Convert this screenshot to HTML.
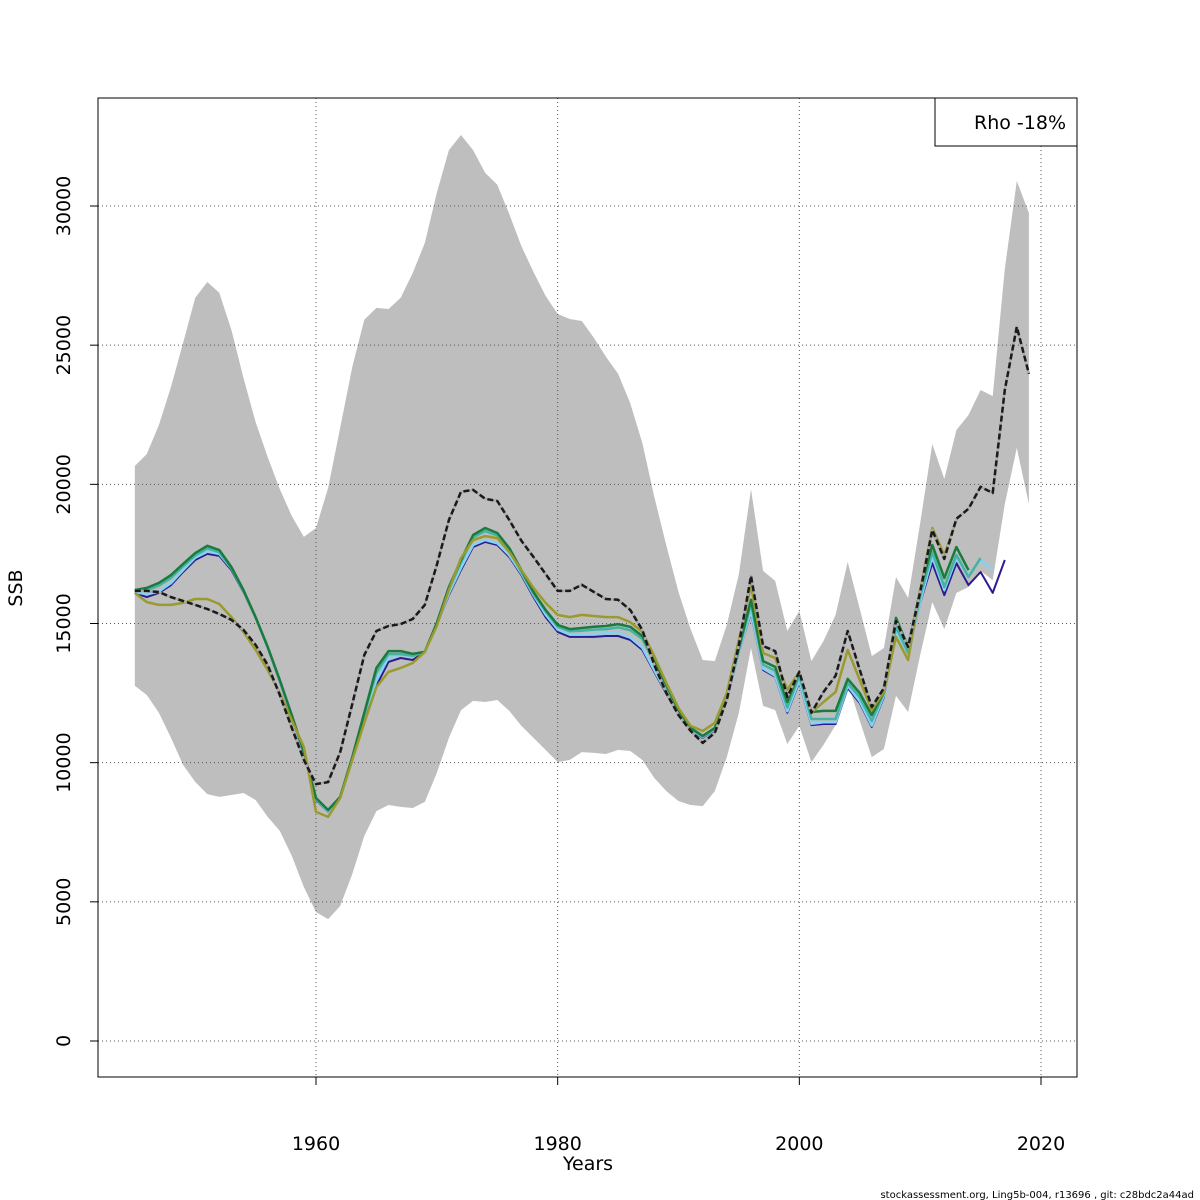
<!DOCTYPE html>
<html><head><meta charset="utf-8"><style>
html,body{margin:0;padding:0;background:#fff;}
svg{display:block;font-family:"DejaVu Sans","Liberation Sans",sans-serif;}
</style></head><body>
<svg id="chart" width="1200" height="1200" viewBox="0 0 1200 1200" xmlns="http://www.w3.org/2000/svg">
<rect width="1200" height="1200" fill="#fff"/>
<g id="band"></g><g id="grid"></g><g id="lines"></g><g id="axes"></g>
</svg>
<script>
const startYear = 1945;
const xTicks = [1960, 1980, 2000, 2020];
const yTicks = [0, 5000, 10000, 15000, 20000, 25000, 30000];
const base = [16170,16170,16130,15950,15810,15670,15520,15340,15130,14770,14230,13510,12430,11250,10100,9230,9300,10380,12110,13870,14730,14910,14980,15160,15670,17100,18720,19730,19800,19480,19400,18720,17970,17390,16780,16170,16170,16390,16130,15880,15850,15490,14770,13510,12500,11710,11140,10710,11070,12250,14230,16710,14190,14010,12360,13260,11790,12540,13120,14730,13330,12000,12680,15090,14160,16130,18360,17320,18760,19120,19910,19690,23390,25660,23970];
const upper = [20660,21090,22130,23500,25080,26700,27270,26880,25550,23820,22240,20980,19830,18860,18110,18430,19870,22030,24220,25910,26340,26300,26700,27590,28670,30470,32010,32550,32010,31190,30760,29710,28560,27630,26770,26120,25940,25870,25260,24580,23970,22920,21490,19550,17790,16130,14800,13690,13650,14950,16780,19830,16890,16530,14730,15450,13650,14370,15310,17210,15520,13830,14120,16670,15920,18610,21450,20190,21950,22490,23390,23170,27740,30900,29750];
const lower = [12760,12430,11790,10890,9920,9310,8870,8770,8840,8910,8660,8050,7550,6650,5530,4630,4380,4850,6000,7370,8260,8480,8410,8370,8590,9630,10890,11890,12220,12180,12250,11860,11320,10890,10460,10020,10100,10380,10350,10310,10460,10420,10100,9450,8980,8620,8480,8440,8980,10200,11790,14120,12040,11890,10670,11320,10020,10640,11350,12900,11500,10200,10490,12400,11820,13870,15770,14800,16100,16310,16890,16560,19290,21310,19290];
const peel1 = [16100,15950,16100,16380,16850,17280,17500,17430,16920,16130,15200,14120,12900,11610,10280,8660,8230,8730,10170,11710,12760,13620,13760,13690,13980,14950,16020,16920,17750,17930,17820,17390,16740,15950,15230,14700,14520,14520,14520,14550,14550,14410,14050,13260,12470,11710,11170,10890,11170,12250,13980,15380,13330,13080,11790,12900,11350,11390,11390,12680,12140,11280,12360,14660,13940,15740,17170,16020,17170,16380,16850,16100,17280];
const peel2 = [16130,16050,16150,16450,16920,17360,17580,17500,16980,16170,15220,14130,12930,11640,10320,8690,8250,8750,10180,11740,12950,13780,13880,13820,14000,14950,16080,17000,17820,18000,17880,17450,16800,16020,15320,14780,14600,14600,14620,14650,14660,14500,14130,13320,12520,11750,11190,10920,11190,12280,14000,15450,13380,13120,11850,12950,11400,11450,11450,12760,12200,11330,12420,14660,13950,15780,17390,16200,17350,16740,17280,16920];
const peel3 = [16170,16200,16360,16640,17050,17440,17700,17560,16990,16180,15220,14150,12950,11690,10360,8710,8280,8760,10190,11760,13230,13900,13900,13840,13980,15000,16220,17200,18100,18320,18160,17620,16850,16070,15440,14880,14720,14740,14780,14800,14860,14760,14450,13590,12700,11830,11220,10940,11220,12320,14060,15700,13520,13300,11980,13120,11570,11570,11570,12860,12350,11500,12500,14880,13940,15960,17570,16310,17460,16670,17350];
const peel4 = [16200,16280,16460,16740,17140,17530,17790,17640,17030,16200,15230,14160,12970,11710,10380,8730,8300,8770,10200,11790,13400,14010,14010,13910,13980,15020,16310,17280,18180,18430,18250,17710,16920,16130,15490,14950,14800,14840,14880,14910,14980,14880,14550,13690,12790,11890,11250,10960,11250,12360,14120,15850,13650,13440,12180,13260,11820,11860,11860,13010,12500,11710,12540,15200,14160,16200,17820,16640,17750,16920];
const peel5 = [16100,15770,15670,15670,15740,15880,15880,15700,15230,14700,14050,13330,12500,11530,10560,8230,8050,8730,10100,11430,12720,13260,13400,13580,13980,14910,16200,17350,18000,18140,18070,17570,16920,16280,15740,15310,15230,15310,15270,15230,15230,15050,14700,13830,12860,11960,11320,11140,11430,12500,14410,16380,13940,13760,12610,13260,11790,12180,12540,14050,12970,11890,12540,14520,13690,16200,18430,17460,18720];
const rhoLabel = "Rho -18%";

const NS = "http://www.w3.org/2000/svg";
const X0 = 98, X1 = 1077, Y0 = 98, Y1 = 1077;
function xs(yr){ return 316 + (yr - 1960) * (1041 - 316) / 60; }
function ys(v){ return 1041 - v * (1041 - 206) / 30000; }
function mk(tag, attrs, parent){ const e = document.createElementNS(NS, tag); for (const k in attrs) e.setAttribute(k, attrs[k]); parent.appendChild(e); return e; }

const gBand = document.getElementById('band');
let d = '';
upper.forEach((v,i)=>{ d += (i?'L':'M') + xs(startYear+i).toFixed(1) + ',' + ys(v).toFixed(1); });
for (let i = lower.length-1; i >= 0; i--) d += 'L' + xs(startYear+i).toFixed(1) + ',' + ys(lower[i]).toFixed(1);
const band = mk('path', {d: d+'Z', fill:'#bebebe', stroke:'none'}, gBand);



const gGrid = document.getElementById('grid');
xTicks.forEach(t=>{
  const l = mk('line', {x1:xs(t), x2:xs(t), y1:Y0, y2:Y1, stroke:'#555', 'stroke-width':1, 'stroke-dasharray':'1,3'}, gGrid);
  
  
});
yTicks.forEach(t=>{
  const l = mk('line', {x1:X0, x2:X1, y1:ys(t), y2:ys(t), stroke:'#555', 'stroke-width':1, 'stroke-dasharray':'1,3'}, gGrid);
  
  
});

const gLines = document.getElementById('lines');
function line(arr, color, w, name, dash){
  const pts = arr.map((v,i)=> xs(startYear+i).toFixed(1)+','+ys(v).toFixed(1)).join(' ');
  const p = mk('polyline', {points:pts, fill:'none', stroke:color, 'stroke-width':w, 'stroke-linejoin':'round'}, gLines);
  if (dash) p.setAttribute('stroke-dasharray', dash);
  
  
}
line(peel1, '#2c1c90', 2, 'peel-2017-line');
line(peel2, '#86d2f2', 2.5, 'peel-2016-line');
line(peel3, '#45b3a3', 2.5, 'peel-2015-line');
line(peel4, '#1b7a3c', 2.5, 'peel-2014-line');
line(peel5, '#9a9a2e', 2.5, 'peel-2013-line');
line(base, '#aaaaaa', 2.5, 'base-model-line-bg');
line(base, '#1a1a1a', 2.5, 'base-model-line', '6,3');

const gAx = document.getElementById('axes');
const frame = mk('rect', {x:X0, y:Y0, width:X1-X0, height:Y1-Y0, fill:'none', stroke:'#000', 'stroke-width':1}, gAx);


xTicks.forEach(t=>{
  mk('line', {x1:xs(t), x2:xs(t), y1:Y1, y2:Y1+8, stroke:'#000'}, gAx);
  const tx = mk('text', {x:xs(t), y:1150, 'text-anchor':'middle', 'font-size':19}, gAx);
  tx.textContent = t;
  
  
});
yTicks.forEach(t=>{
  mk('line', {x1:X0-8, x2:X0, y1:ys(t), y2:ys(t), stroke:'#000'}, gAx);
  const tx = mk('text', {x:70, y:ys(t), 'text-anchor':'middle', 'font-size':19, transform:'rotate(-90 70 '+ys(t)+')'}, gAx);
  tx.textContent = t;
  
  
});
const xt = mk('text', {x:588, y:1170, 'text-anchor':'middle', 'font-size':19}, gAx);
xt.textContent = 'Years';


const yt = mk('text', {x:22, y:588, 'text-anchor':'middle', 'font-size':19, transform:'rotate(-90 22 588)'}, gAx);
yt.textContent = 'SSB';


const lg = mk('rect', {x:935, y:98, width:142, height:48, fill:'#fff', stroke:'#000'}, gAx);


const lt = mk('text', {x:1020, y:129, 'text-anchor':'middle', 'font-size':19}, gAx);
lt.textContent = rhoLabel;


const ft = mk('text', {x:1194, y:1198, 'text-anchor':'end', 'font-size':10}, gAx);
ft.textContent = 'stockassessment.org, Ling5b-004, r13696 , git: c28bdc2a44ad';


</script>
</body></html>
